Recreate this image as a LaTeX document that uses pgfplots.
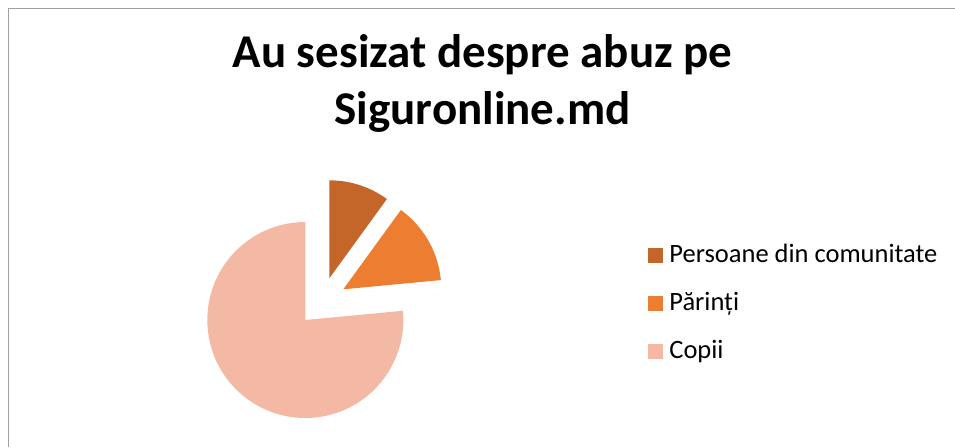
\documentclass[border=0pt]{standalone}
\usepackage{fontspec}
\setmainfont{Carlito}
\usepackage{pgfplots}
\usepackage{pgfplotstable}
\pgfplotsset{compat=1.18}
\definecolor{cPers}{HTML}{C4652A}
\definecolor{cPar}{HTML}{ED7D31}
\definecolor{cCop}{HTML}{F4B9A5}
\definecolor{frame}{HTML}{A0A0A0}

% slice values (percent) and the position of each slice's tip (after explosion)
\pgfplotstableread{
label value cx cy
Persoane 10.0 329.3 168.7
Parinti  13.5 343.3 157.7
Copii    76.5 305.3 127.0
}\piedata

\begin{document}
\begin{tikzpicture}
\pgfplotstablegetelem{0}{value}\of\piedata \edef\vA{\pgfplotsretval}
\pgfplotstablegetelem{1}{value}\of\piedata \edef\vB{\pgfplotsretval}
\pgfplotstablegetelem{2}{value}\of\piedata \edef\vC{\pgfplotsretval}
\pgfplotstablegetelem{0}{cx}\of\piedata \edef\xA{\pgfplotsretval}
\pgfplotstablegetelem{1}{cx}\of\piedata \edef\xB{\pgfplotsretval}
\pgfplotstablegetelem{2}{cx}\of\piedata \edef\xC{\pgfplotsretval}
\pgfplotstablegetelem{0}{cy}\of\piedata \edef\yA{\pgfplotsretval}
\pgfplotstablegetelem{1}{cy}\of\piedata \edef\yB{\pgfplotsretval}
\pgfplotstablegetelem{2}{cy}\of\piedata \edef\yC{\pgfplotsretval}
\pgfmathsetmacro\aA{90}
\pgfmathsetmacro\aB{\aA-3.6*\vA}
\pgfmathsetmacro\aC{\aB-3.6*\vB}
\pgfmathsetmacro\aD{\aC-3.6*\vC}
\begin{axis}[
  at={(0,0)}, anchor=south west,
  width=955pt, height=447pt, scale only axis,
  xmin=0, xmax=955, ymin=0, ymax=447,
  hide axis, clip=false,
  legend style={
    at={(axis cs:648,201.7)}, anchor=north west,
    draw=none, fill=none, inner sep=0pt, outer sep=0pt,
    font=\fontsize{26.5}{31}\selectfont,
    row sep=25pt, column sep=0pt,
    nodes={text height=17pt, text depth=6pt, inner sep=0pt, outer sep=0pt},
  },
  legend cell align=left,
]
\addlegendimage{legend image code/.code={\fill[cPers] (0pt,-5pt) rectangle (14pt,9pt); \path (21pt,0pt);}}
\addlegendentry{Persoane din comunitate}
\addlegendimage{legend image code/.code={\fill[cPar] (0pt,-5pt) rectangle (14pt,9pt); \path (21pt,0pt);}}
\addlegendentry{Părinți}
\addlegendimage{legend image code/.code={\fill[cCop] (0pt,-5pt) rectangle (14pt,9pt); \path (21pt,0pt);}}
\addlegendentry{Copii}

\fill[cPers] (axis cs:\xA,\yA) -- ++(\aA:98pt) arc[start angle=\aA, end angle=\aB, radius=98pt] -- cycle;
\fill[cPar]  (axis cs:\xB,\yB) -- ++(\aB:98pt) arc[start angle=\aB, end angle=\aC, radius=98pt] -- cycle;
\fill[cCop]  (axis cs:\xC,\yC) -- ++(\aC:98pt) arc[start angle=\aC, end angle=\aD, radius=98pt] -- cycle;

\node[anchor=base, font=\fontsize{47}{56}\selectfont\bfseries] at (axis cs:482.5,379) {Au sesizat despre abuz pe};
\node[anchor=base, font=\fontsize{47}{56}\selectfont\bfseries] at (axis cs:482.5,322) {Siguronline.md};

\draw[frame, line width=1.5pt] (axis cs:8.5,0) -- (axis cs:8.5,438.5) -- (axis cs:955,438.5);
\end{axis}
\pgfresetboundingbox
\path[use as bounding box] (0,0) rectangle (955pt,447pt);
\end{tikzpicture}
\end{document}
